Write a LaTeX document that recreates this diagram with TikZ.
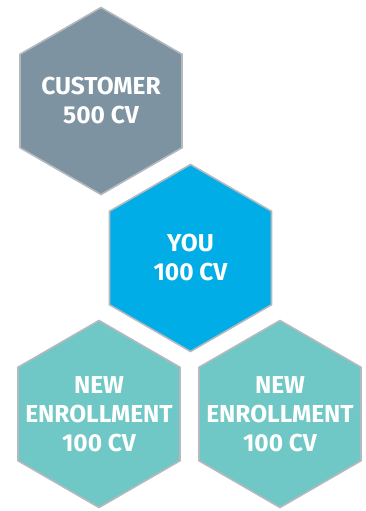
\documentclass[tikz,border=0pt]{standalone}
\usepackage{fontspec}
\setmainfont{Fira Sans}
\usetikzlibrary{shapes.geometric}
\definecolor{custgray}{HTML}{7D93A2}
\definecolor{youblue}{HTML}{00ADE6}
\definecolor{newteal}{HTML}{6FC8C5}
\definecolor{rimgray}{HTML}{B4B9BF}
\tikzset{
  hexa/.style={regular polygon, regular polygon sides=6, shape border rotate=30,
    minimum size=187pt, inner sep=0pt, draw=rimgray, line width=1.6pt},
  hextext/.style={text=white, align=center, inner sep=0pt,
    font=\fontsize{24.5}{29}\selectfont\bfseries}
}
\begin{document}
\begin{tikzpicture}[x=1pt,y=-1pt]
                \useasboundingbox (0,0) rectangle (366,511);
                \node[hexa, fill=custgray] (customer) at (101,101) {};
                \node[hexa, fill=youblue] (you) at (190.5,258) {};
                \node[hexa, fill=newteal] (newleft) at (99,414) {};
                \node[hexa, fill=newteal] (newright) at (280,414) {};
                \node[hextext] (customertext) at (customer) {CUSTOMER\\500 CV};
                \node[hextext] (youtext) at (you) {YOU\\100 CV};
                \node[hextext] (newlefttext) at (newleft) {NEW\\ENROLLMENT\\100 CV};
                \node[hextext] (newrighttext) at (newright) {NEW\\ENROLLMENT\\100 CV};
            \end{tikzpicture}
\end{document}
